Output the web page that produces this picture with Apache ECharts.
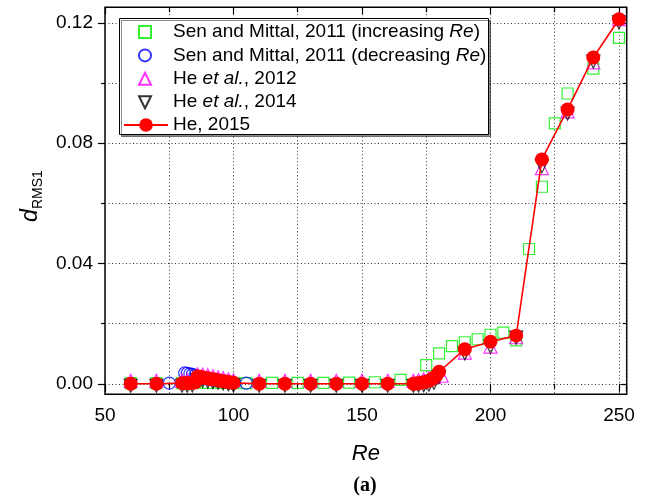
<!DOCTYPE html>
<html><head><meta charset="utf-8">
<script src="https://cdn.jsdelivr.net/npm/echarts@6/dist/echarts.min.js"></script>
<style>html,body{margin:0;padding:0;background:#fff}#c{width:646px;height:500px}</style>
</head><body><div id="c"></div>
<script>
// ---------------- data ----------------
const seriesNames = [
  'Sen and Mittal, 2011 (increasing Re)',
  'Sen and Mittal, 2011 (decreasing Re)',
  'He et al., 2012',
  'He et al., 2014',
  'He, 2015'
];
const xTicks = [50, 100, 150, 200, 250];
const yTicks = [0.00, 0.04, 0.08, 0.12];

const senIncRe = [60, 70, 80, 85, 90, 95, 100, 105, 115, 125, 135, 145, 155, 165, 175, 180, 185, 190, 195, 200, 205, 210, 215, 220, 225, 230, 240, 250];
const senIncD  = [0.0002, 0.0002, 0.0002, 0.0003, 0.0003, 0.0003, 0.0002, 0.0002, 0.0003, 0.0003, 0.0003, 0.0004, 0.0005, 0.0013, 0.0062, 0.0101, 0.0125, 0.0138, 0.0148, 0.0163, 0.0170, 0.0144, 0.0448, 0.0655, 0.0866, 0.0965, 0.1048, 0.1150];

const senDecRe = [75, 81, 82, 83, 84, 85, 86, 88, 90, 92, 94, 96, 98, 100, 105];
const senDecD  = [0.0002, 0.0036, 0.0035, 0.0033, 0.0031, 0.0028, 0.0022, 0.0019, 0.0016, 0.0013, 0.0010, 0.0008, 0.0005, 0.0003, 0.0002];

const he2012Re = [60, 70, 80, 82, 84, 86, 88, 90, 92, 94, 96, 98, 100, 110, 120, 130, 140, 150, 160, 170, 172, 174, 176, 178, 181, 190, 200, 210, 220, 230, 240, 250];
const he2012D  = [0.0003, 0.0003, 0.0003, 0.0003, 0.0004, 0.0025, 0.0024, 0.0022, 0.0018, 0.0015, 0.0012, 0.0008, 0.0005, 0.0003, 0.0003, 0.0003, 0.0003, 0.0003, 0.0003, 0.0003, 0.0005, 0.0008, 0.0012, 0.0016, 0.0020, 0.0097, 0.0117, 0.0148, 0.0710, 0.0899, 0.1062, 0.1206];

const he2014Re = [60, 70, 80, 82, 84, 86, 88, 90, 92, 94, 96, 98, 100, 110, 120, 130, 140, 150, 160, 170, 172, 174, 176, 178, 180, 190, 200, 210, 220, 230, 240, 250];
const he2014D  = [0.0000, 0.0000, 0.0000, 0.0000, 0.0001, 0.0018, 0.0016, 0.0014, 0.0012, 0.0010, 0.0008, 0.0005, 0.0002, 0.0000, 0.0000, 0.0000, 0.0000, 0.0000, 0.0000, 0.0000, 0.0001, 0.0002, 0.0004, 0.0010, 0.0030, 0.0108, 0.0130, 0.0160, 0.0730, 0.0905, 0.1078, 0.1208];

const he2015Re = [60, 70, 80, 81, 82, 83, 84, 85, 86, 87, 88, 89, 90, 91, 92, 93, 94, 95, 96, 97, 98, 99, 100, 110, 120, 130, 140, 150, 160, 170, 171, 172, 173, 174, 175, 176, 177, 178, 179, 180, 190, 200, 210, 220, 230, 240, 250];
const he2015D  = [0.0000, 0.0000, 0.0002, 0.0002, 0.0002, 0.0002, 0.0003, 0.0004, 0.0024, 0.0023, 0.0021, 0.0019, 0.0018, 0.0016, 0.0015, 0.0013, 0.0012, 0.0010, 0.0009, 0.0007, 0.0006, 0.0004, 0.0003, 0.0000, 0.0000, 0.0000, 0.0000, 0.0000, 0.0000, 0.0000, 0.0001, 0.0002, 0.0003, 0.0005, 0.0007, 0.0010, 0.0014, 0.0020, 0.0028, 0.0040, 0.0115, 0.0140, 0.0160, 0.0746, 0.0912, 0.1085, 0.1212];

// ---------------- layout ----------------
const FONT = 'Liberation Sans';
const W = 646, H = 500;
const gridLeft = 105, gridRight = 19.3, gridTop = 7.2, gridBottom = 105.7;
const xMin = 50, xMax = 253, yMin = -0.0035, yMax = 0.1252;
const plotH = H - gridTop - gridBottom;
const pxPerUnit = plotH / (yMax - yMin);
const yTickMin = yTicks[0], yTickMax = yTicks[yTicks.length - 1];
const g2Top = gridTop + (yMax - yTickMax) * pxPerUnit;
const g2Bottom = gridBottom + (yTickMin - yMin) * pxPerUnit;

const zip = (a, b) => a.map((v, i) => [v, b[i]]);
const dotted = { color: '#333', type: [1, 2.5], width: 1 };
const tickStyle = { color: '#000', width: 1.2 };

function legendFmt(name) {
  if (name.indexOf('(increasing Re)') >= 0) return 'Sen and Mittal, 2011 (increasing {i|Re})';
  if (name.indexOf('(decreasing Re)') >= 0) return 'Sen and Mittal, 2011 (decreasing {i|Re})';
  if (name.indexOf('et al.') >= 0) return name.replace('et al.', '{i|et al.}');
  return name;
}
const legendText = {
  fontSize: 19, fontFamily: FONT, color: '#000',
  rich: { i: { fontStyle: 'italic', fontSize: 19, fontFamily: FONT, color: '#000' } }
};
const legendTextA = Object.assign({}, legendText, { padding: [0, 0, 0, 17] });

const chart = echarts.init(document.getElementById('c'), null, { renderer: 'canvas' });
chart.setOption({
  animation: false,
  backgroundColor: '#fff',
  grid: [
    { left: gridLeft, right: gridRight, top: gridTop, bottom: gridBottom, show: true,
      borderColor: '#000', borderWidth: 1.5, backgroundColor: 'transparent',
      containLabel: false, outerBoundsMode: 'none' },
    { left: gridLeft, right: gridRight, top: g2Top, bottom: g2Bottom, show: false,
      containLabel: false, outerBoundsMode: 'none' }
  ],
  xAxis: [
    { gridIndex: 0, type: 'value', min: xMin, max: xMax, interval: 50, position: 'bottom',
      axisLine: { show: false },
      axisTick: { show: true, inside: false, length: 8, lineStyle: tickStyle },
      minorTick: { show: true, splitNumber: 2, length: 5, lineStyle: tickStyle },
      axisLabel: { color: '#000', fontSize: 19, fontFamily: FONT, margin: 12,
        formatter: v => (xTicks.indexOf(Math.round(v)) >= 0 && Math.abs(v - Math.round(v)) < 1e-6) ? String(Math.round(v)) : '' },
      splitLine: { show: true, lineStyle: dotted },
      minorSplitLine: { show: true, lineStyle: dotted },
      name: 'Re', nameLocation: 'middle', nameGap: 49,
      nameTextStyle: { fontStyle: 'italic', fontSize: 22, color: '#000', fontFamily: FONT } },
    { gridIndex: 0, type: 'value', min: xMin, max: xMax, interval: 50, position: 'top',
      axisLine: { show: false },
      axisTick: { show: true, inside: true, length: 7, lineStyle: tickStyle },
      minorTick: { show: true, splitNumber: 2, length: 5, lineStyle: tickStyle },
      axisLabel: { show: false }, splitLine: { show: false } },
    { gridIndex: 1, type: 'value', min: xMin, max: xMax, show: false }
  ],
  yAxis: [
    { gridIndex: 0, type: 'value', min: yMin, max: yMax, show: false },
    { gridIndex: 1, type: 'value', min: yTickMin, max: yTickMax, interval: 0.04, position: 'left',
      axisLine: { show: false },
      axisTick: { show: true, inside: false, length: 7, lineStyle: tickStyle },
      minorTick: { show: true, splitNumber: 2, length: 4, lineStyle: tickStyle },
      axisLabel: { color: '#000', fontSize: 19, fontFamily: FONT, margin: 12, formatter: v => v.toFixed(2) },
      splitLine: { show: true, lineStyle: dotted },
      minorSplitLine: { show: true, lineStyle: dotted } },
    { gridIndex: 1, type: 'value', min: yTickMin, max: yTickMax, interval: 0.04, position: 'right',
      axisLine: { show: false },
      axisTick: { show: true, inside: true, length: 6, lineStyle: tickStyle },
      minorTick: { show: true, splitNumber: 2, length: 4, lineStyle: tickStyle },
      axisLabel: { show: false }, splitLine: { show: false } }
  ],
  legend: [
    { data: [
        seriesNames[0], seriesNames[1], seriesNames[2],
        { name: seriesNames[3], icon: 'path://M0,0 L12,0 L6,12 Z', symbolRotate: 0 }
      ],
      orient: 'vertical', left: 138, top: 22.5, padding: 0,
      itemWidth: 12, itemHeight: 12, itemGap: 4.4, selectedMode: false,
      formatter: legendFmt, textStyle: legendTextA, z: 6 },
    { data: [seriesNames[4]], orient: 'vertical', left: 123, top: 115.5, padding: 0,
      itemWidth: 44, itemHeight: 17, itemGap: 5, selectedMode: false,
      formatter: legendFmt, textStyle: legendText, z: 6 }
  ],
  graphic: [
    { type: 'rect', z: 5, shape: { x: 119.5, y: 18.5, width: 369, height: 116 },
      style: { fill: '#fff', stroke: '#000', lineWidth: 1, shadowColor: 'rgba(0,0,0,0.45)', shadowOffsetX: 2, shadowOffsetY: 2, shadowBlur: 0 } },
    { type: 'group', x: 31, y: 222, rotation: Math.PI / 2, children: [
      { type: 'text', x: 0, y: 0, style: { text: 'd', font: 'italic 23px "Liberation Sans"', fill: '#000', align: 'left', verticalAlign: 'middle' } },
      { type: 'text', x: 13, y: 7, style: { text: 'RMS1', font: '14px "Liberation Sans"', fill: '#000', align: 'left', verticalAlign: 'middle' } }
    ] },
    { type: 'text', x: 365, y: 486, style: { text: '(a)', font: 'bold 20px "Liberation Serif"', fill: '#000', align: 'center', verticalAlign: 'middle' } }
  ],
  series: [
    { name: seriesNames[0], type: 'scatter', xAxisIndex: 0, yAxisIndex: 0, data: zip(senIncRe, senIncD),
      symbol: 'rect', symbolSize: 11, itemStyle: { color: 'transparent', borderColor: '#00ee00', borderWidth: 1.2 }, z: 2 },
    { name: seriesNames[1], type: 'scatter', xAxisIndex: 0, yAxisIndex: 0, data: zip(senDecRe, senDecD),
      symbol: 'circle', symbolSize: 12, itemStyle: { color: 'transparent', borderColor: '#0000ff', borderWidth: 1.2 }, z: 2 },
    { name: seriesNames[2], type: 'scatter', xAxisIndex: 0, yAxisIndex: 0, data: zip(he2012Re, he2012D),
      symbol: 'triangle', symbolSize: 13, symbolOffset: [0, -2], itemStyle: { color: 'transparent', borderColor: '#ff00ff', borderWidth: 1.2 }, z: 2 },
    { name: seriesNames[3], type: 'scatter', xAxisIndex: 0, yAxisIndex: 0, data: zip(he2014Re, he2014D),
      symbol: 'triangle', symbolRotate: 180, symbolSize: 13, symbolOffset: [0, 2], itemStyle: { color: 'transparent', borderColor: '#000', borderWidth: 1.2 }, z: 2 },
    { name: seriesNames[4], type: 'line', xAxisIndex: 0, yAxisIndex: 0, data: zip(he2015Re, he2015D),
      symbol: 'circle', symbolSize: 14, showAllSymbol: true,
      itemStyle: { color: '#ff0000' }, lineStyle: { color: '#ff0000', width: 1.6 }, z: 3 }
  ]
});
</script></body></html>
